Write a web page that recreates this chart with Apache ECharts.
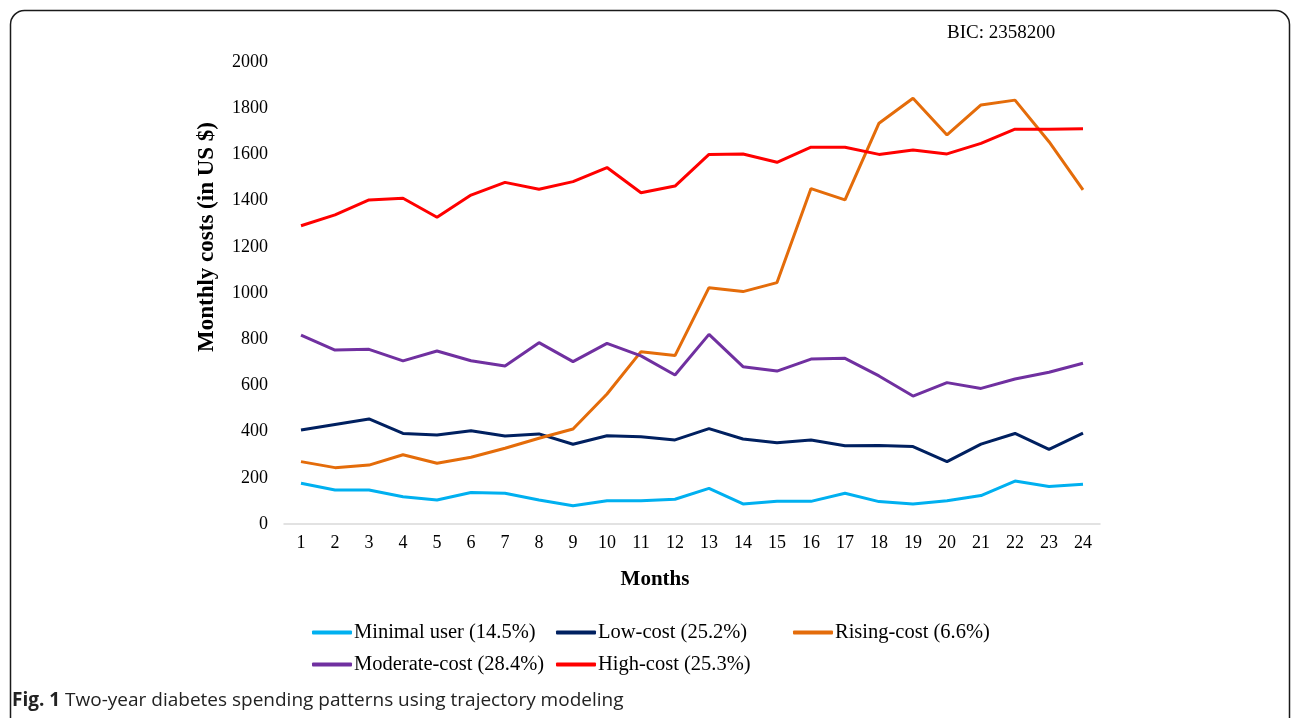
<!DOCTYPE html>
<html>
<head>
<meta charset="utf-8">
<script src="https://cdn.jsdelivr.net/npm/echarts@6/dist/echarts.min.js"></script>
<style>html,body{margin:0;padding:0;background:#fff;}#c{width:1292px;height:718px;}</style>
</head>
<body>
<div id="c"></div>
<script>
const months = ['1','2','3','4','5','6','7','8','9','10','11','12','13','14','15','16','17','18','19','20','21','22','23','24'];
const minimalUser = [176,147,147,118,104,136,133,104,79,101,101,107,154,87,98,98,133,97,87,101,123,186,162,172];
const lowCost = [407,431,455,392,385,404,381,390,345,382,378,364,413,368,352,364,339,340,335,270,346,392,323,393];
const risingCost = [270,244,255,300,263,289,328,371,411,563,746,729,1023,1006,1045,1452,1403,1735,1843,1684,1814,1835,1655,1446];
const moderateCost = [818,753,756,706,749,707,684,785,703,782,728,645,821,681,662,714,717,641,554,612,587,628,657,696];
const highCost = [1291,1338,1403,1410,1328,1424,1479,1449,1482,1543,1434,1463,1600,1602,1566,1631,1631,1600,1619,1602,1648,1709,1709,1711];
const yTicks = {min:0, max:2000, interval:200};
const seriesNames = ['Minimal user (14.5%)','Low-cost (25.2%)','Rising-cost (6.6%)','Moderate-cost (28.4%)','High-cost (25.3%)'];

const serif = 'Liberation Serif';
const chart = echarts.init(document.getElementById('c'));
function mk(name, data, color){
  return {name:name, type:'line', data:data, symbol:'none', showSymbol:false,
    lineStyle:{color:color, width:3}, itemStyle:{color:color}, z:2};
}
const legendPos = [[312,622],[556,622],[793,622],[312,654],[556,654]];
const legends = seriesNames.map(function(n, i){
  return {orient:'horizontal', icon:'roundRect', itemWidth:40, itemHeight:4, padding:0,
    left:legendPos[i][0], top:legendPos[i][1], data:[n],
    textStyle:{fontFamily:serif, fontSize:20.5, color:'#000', padding:[0,0,0,-3]}};
});
chart.setOption({
  animation:false,
  backgroundColor:'#fff',
  grid:{left:284, right:192, top:62, bottom:194, containLabel:false},
  xAxis:{type:'category', data:months, boundaryGap:true,
    axisLine:{lineStyle:{color:'#d9d9d9', width:1.5}}, axisTick:{show:false},
    axisLabel:{fontFamily:serif, fontSize:18, color:'#000', margin:10}},
  yAxis:{type:'value', min:yTicks.min, max:yTicks.max, interval:yTicks.interval,
    splitLine:{show:false}, axisLine:{show:false}, axisTick:{show:false},
    axisLabel:{fontFamily:serif, fontSize:18, color:'#000', margin:16,
      formatter:function(v){return String(v);}}},
  legend:legends,
  graphic:[
    {type:'rect', shape:{x:10.5, y:10.5, width:1279, height:800, r:14},
     style:{fill:'none', stroke:'#1a1a1a', lineWidth:1.5}, silent:true},
    {type:'text', x:947, y:33, style:{text:'BIC: 2358200', font:'19px "Liberation Serif"', fill:'#000', verticalAlign:'middle'}},
    {type:'text', x:655, y:580, style:{text:'Months', font:'bold 21px "Liberation Serif"', fill:'#000', align:'center', verticalAlign:'middle'}},
    {type:'text', x:207, y:237, rotation:Math.PI/2, style:{text:'Monthly costs (in US $)', font:'bold 23px "Liberation Serif"', fill:'#000', align:'center', verticalAlign:'middle'}},
    {type:'text', x:12, y:701, style:{
      text:'{b|Fig. 1} Two-year diabetes spending patterns using trajectory modeling',
      rich:{b:{fontWeight:'bold', fontFamily:'Open Sans', fontSize:19, fill:'#222'}},
      font:'19px "Open Sans"', fill:'#222', verticalAlign:'middle'}}
  ],
  series:[
    mk(seriesNames[0], minimalUser, '#00B0F0'),
    mk(seriesNames[1], lowCost, '#002060'),
    mk(seriesNames[2], risingCost, '#E46C0A'),
    mk(seriesNames[3], moderateCost, '#7030A0'),
    mk(seriesNames[4], highCost, '#FF0000')
  ]
});
</script>
</body>
</html>
